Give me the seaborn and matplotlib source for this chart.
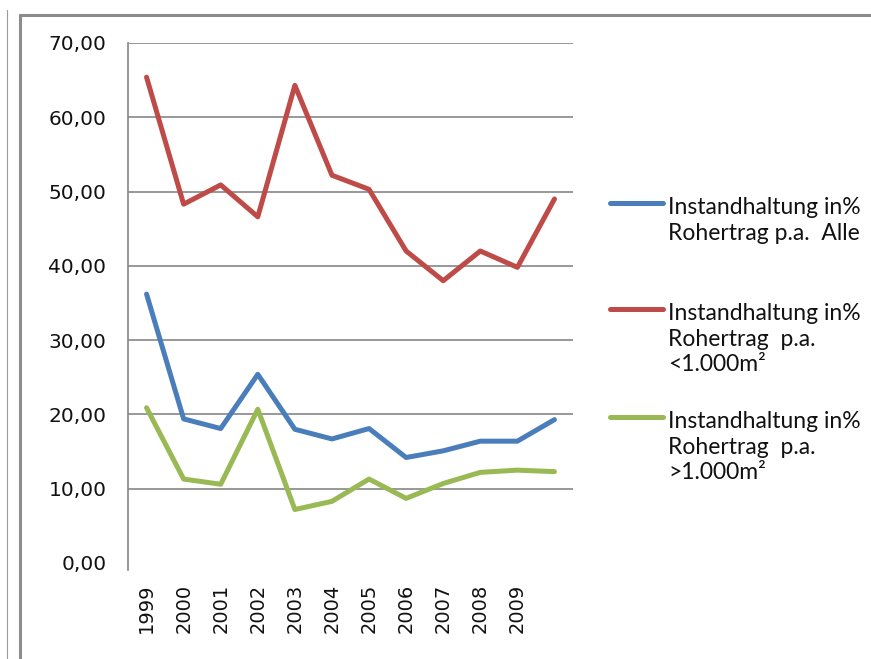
import matplotlib
matplotlib.use("Agg")
import matplotlib.pyplot as plt
from matplotlib.lines import Line2D
from matplotlib.ticker import FixedLocator, FuncFormatter
import seaborn as sns
import pandas as pd

# data
years = ["1999", "2000", "2001", "2002", "2003", "2004", "2005", "2006",
         "2007", "2008", "2009", ""]
alle = [36.2, 19.4, 18.1, 25.4, 18.0, 16.7, 18.1, 14.2, 15.1, 16.4, 16.4, 19.3]
unter_1000 = [65.4, 48.3, 50.9, 46.6, 64.3, 52.2, 50.3, 42.0, 38.0, 42.0, 39.8, 49.0]
ueber_1000 = [20.9, 11.3, 10.6, 20.7, 7.2, 8.3, 11.3, 8.7, 10.7, 12.2, 12.5, 12.3]

series_names = ["alle", "klein", "gross"]
legend_labels = [
    "Instandhaltung in%\nRohertrag p.a.  Alle",
    "Instandhaltung in%\nRohertrag  p.a.\n<1.000m²",
    "Instandhaltung in%\nRohertrag  p.a.\n>1.000m²",
]
colors = ["#4A7EBB", "#BE4B48", "#98B954"]

df = pd.DataFrame({
    "pos": list(range(len(years))) * 3,
    "wert": alle + unter_1000 + ueber_1000,
    "serie": sum([[s] * len(years) for s in series_names], []),
})

sns.set_style("white")
plt.rcParams["font.family"] = ["DejaVu Sans"]

W, H = 871, 659
fig = plt.figure(figsize=(W / 100, H / 100), dpi=100)
ax = fig.add_axes([128 / W, 1 - 563 / H, (573 - 128) / W, (563 - 43) / H])

sns.lineplot(data=df, x="pos", y="wert", hue="serie", hue_order=series_names,
             palette=colors, linewidth=3.6, legend=False, ax=ax)

grey = "#868686"
ax.set_xlim(-0.5, len(years) - 0.5)
ax.set_ylim(0, 70)
ax.set_xlabel("")
ax.set_ylabel("")

ax.set_yticks(range(0, 71, 10))
ax.yaxis.set_major_formatter(FuncFormatter(lambda v, p: f"{v:.2f}".replace(".", ",")))
ax.set_xticks(range(len(years)))
ax.set_xticklabels(years, rotation=90)
ax.xaxis.set_minor_locator(FixedLocator([i - 0.5 for i in range(len(years) + 1)]))

ax.tick_params(axis="y", length=5.5, width=1, color=grey, labelsize=14.5, pad=10,
               labelcolor="#111111")
ax.tick_params(axis="x", which="major", length=0, labelsize=14, pad=15,
               labelcolor="#111111")
ax.tick_params(axis="x", which="minor", length=5, width=1, color=grey)

ax.yaxis.grid(True, color=grey, linewidth=1.2)
ax.get_ygridlines()[0].set_visible(False)

for s in ["top", "right", "bottom"]:
    ax.spines[s].set_visible(False)
ax.spines["left"].set_color(grey)
ax.spines["left"].set_linewidth(1.2)
ax.spines["left"].set_bounds(-0.95, 70)

# legend drawn by hand so the handle sits on the first text line
leg_rows = [203, 309, 417]
for lab, col, yy in zip(legend_labels, colors, leg_rows):
    fig.add_artist(Line2D([610 / W, 663 / W], [1 - yy / H, 1 - yy / H],
                          color=col, linewidth=3.6))
    fig.text(668 / W, 1 - (yy - 6) / H, lab, ha="left", va="top",
             fontsize=16.5, family=["Lato", "DejaVu Sans"], linespacing=1.27,
             color="#111111")

# chart frame remains
fig.add_artist(Line2D([19.5 / W, 19.5 / W], [0, 1 - 14.5 / H], color="#8c8c8c", linewidth=2.2))
fig.add_artist(Line2D([19.5 / W, 1], [1 - 14.5 / H, 1 - 14.5 / H], color="#8c8c8c", linewidth=2.2))
fig.add_artist(Line2D([7 / W, 7 / W], [0, 1 - 10 / H], color="#9a9a9a", linewidth=0.8))

fig.savefig("out.png", dpi=100)
